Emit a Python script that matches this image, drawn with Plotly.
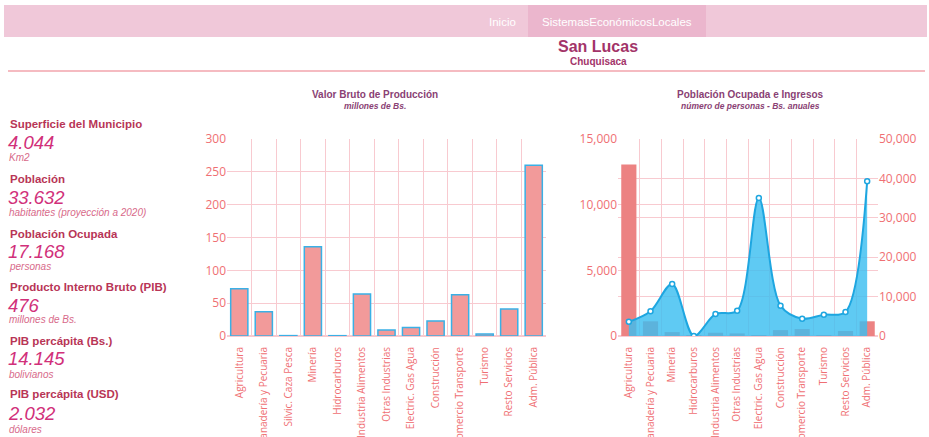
import plotly.graph_objects as go

W, H = 929, 437

# --- data -------------------------------------------------------------------
sectores_vbp = [
    "Agricultura", "Ganadería y Pecuaria", "Silvic. Caza Pesca", "Minería",
    "Hidrocarburos", "Industria Alimentos", "Otras Industrias",
    "Electric. Gas Agua", "Construcción", "Comercio Transporte", "Turismo",
    "Resto Servicios", "Adm. Pública",
]
vbp_millones = [72, 37, 0.6, 136, 0.5, 64, 9, 13, 23, 63, 3, 41, 260]

sectores_po = [
    "Agricultura", "Ganadería y Pecuaria", "Minería", "Hidrocarburos",
    "Industria Alimentos", "Otras Industrias", "Electric. Gas Agua",
    "Construcción", "Comercio Transporte", "Turismo", "Resto Servicios",
    "Adm. Pública",
]
poblacion_ocupada = [13050, 1120, 300, 20, 250, 200, 40, 450, 530, 70, 380, 1120]
ingresos_anuales = [3600, 6300, 13200, 0, 5600, 6400, 35000, 7700, 4400, 5400, 6100, 39300]

indicadores = [
    ("Superficie del Municipio", "4.044", "Km2"),
    ("Población", "33.632", "habitantes (proyección a 2020)"),
    ("Población Ocupada", "17.168", "personas"),
    ("Producto Interno Bruto (PIB)", "476", "millones de Bs."),
    ("PIB percápita (Bs.)", "14.145", "bolivianos"),
    ("PIB percápita (USD)", "2.032", "dólares"),
]

# --- colours ----------------------------------------------------------------
TICK = "#ef6f73"
GRID = "#f8cad0"
TITLE = "#8a3f74"
LABEL = "#b83556"
VALUE = "#d1307a"
UNIT = "#d86a8a"
BLUE = "#1ea6e0"


def py(px):
    """Pixel row -> paper y."""
    return 1 - px / H


def px_x(px):
    return px / W


fig = go.Figure()

fig.add_trace(go.Bar(
    x=sectores_vbp, y=vbp_millones, xaxis="x", yaxis="y",
    marker=dict(color="#f29a9a", line=dict(color="#3ab0e6", width=1.5)),
    showlegend=False,
))
fig.add_trace(go.Bar(
    x=sectores_po, y=poblacion_ocupada, xaxis="x2", yaxis="y2",
    marker=dict(color="#ec8282", line=dict(width=0)),
    showlegend=False,
))
fig.add_trace(go.Scatter(
    x=sectores_po, y=ingresos_anuales, xaxis="x2", yaxis="y3",
    mode="lines+markers", line=dict(color=BLUE, width=2, shape="spline", smoothing=0.9),
    fill="tozeroy", fillcolor="rgba(60,190,240,0.82)",
    marker=dict(size=5, color="white", line=dict(color=BLUE, width=1.5)),
    showlegend=False, cliponaxis=True,
))

y_dom = [py(336), py(139)]
axis_font = dict(family="Open Sans, sans-serif", size=10, color=TICK)
xcommon = dict(
    type="category", tickangle=-90, tickson="boundaries", showgrid=True,
    gridcolor=GRID, gridwidth=1, ticks="", tickfont=axis_font,
    ticklabelstandoff=6,
    showline=True, linecolor=GRID, mirror=False, fixedrange=True,
    automargin=False,
)
ycommon = dict(
    showgrid=True, gridcolor=GRID, gridwidth=1, zeroline=True,
    zerolinecolor=GRID, tickfont=dict(family="Open Sans, sans-serif", size=12, color=TICK),
    ticks="", fixedrange=True, automargin=False,
)

fig.update_layout(
    width=W, height=H,
    margin=dict(l=0, r=0, t=0, b=0, autoexpand=False),
    paper_bgcolor="white", plot_bgcolor="white",
    bargap=0.3,
    xaxis=dict(domain=[px_x(227), px_x(546)], anchor="y", **xcommon),
    yaxis=dict(domain=y_dom, anchor="x", range=[0, 300], dtick=50, **ycommon),
    xaxis2=dict(domain=[px_x(618), px_x(878)], anchor="y2", **xcommon),
    yaxis2=dict(domain=y_dom, anchor="x2", range=[0, 15000], dtick=5000,
                tickformat=",", **ycommon),
    yaxis3=dict(overlaying="y2", anchor="x2", side="right", range=[0, 50000],
                dtick=10000, tickformat=",", **ycommon),
)

# header bar
shapes = [
    dict(type="rect", xref="paper", yref="paper", x0=px_x(4), x1=px_x(927),
         y0=py(37), y1=py(5), fillcolor="#f0c8d9", line=dict(width=0), layer="below"),
    dict(type="rect", xref="paper", yref="paper", x0=px_x(528), x1=px_x(706),
         y0=py(37), y1=py(5), fillcolor="#ebb6cd", line=dict(width=0), layer="below"),
    dict(type="line", xref="paper", yref="paper", x0=px_x(8), x1=px_x(925),
         y0=py(71), y1=py(71), line=dict(color="#f2a5ad", width=1.5)),
]
fig.update_layout(shapes=shapes)

narrow = "Liberation Sans Narrow, Liberation Sans, sans-serif"
sans = "Liberation Sans, Arial, sans-serif"
nav_font = dict(family=narrow, size=11.5, color="white")
ann = [
    dict(x=px_x(502), y=py(22), text="Inicio", font=nav_font),
    dict(x=px_x(617), y=py(22), text="SistemasEconómicosLocales", font=nav_font),
    dict(x=px_x(598), y=py(46), text="<b>San Lucas</b>",
         font=dict(family=narrow, size=16, color="#a33469")),
    dict(x=px_x(598), y=py(61), text="<b>Chuquisaca</b>",
         font=dict(family=narrow, size=10, color="#a33469")),
    dict(x=px_x(375), y=py(95), text="<b>Valor Bruto de Producción</b>",
         font=dict(family=sans, size=10, color=TITLE)),
    dict(x=px_x(375), y=py(106), text="<b><i>millones de Bs.</i></b>",
         font=dict(family=sans, size=8.5, color=TITLE)),
    dict(x=px_x(750), y=py(95), text="<b>Población Ocupada e Ingresos</b>",
         font=dict(family=sans, size=10, color=TITLE)),
    dict(x=px_x(750), y=py(106), text="<b><i>número de personas - Bs. anuales</i></b>",
         font=dict(family=sans, size=8.5, color=TITLE)),
]

rows = [(124, 142, 158), (179, 197, 212), (234, 251, 266),
        (287, 305, 319), (341, 358, 374), (394, 413, 429)]
for (label, value, unit), (yl, yv, yu) in zip(indicadores, rows):
    ann.append(dict(x=px_x(8), y=py(yl), xanchor="left", text=f"<b>{label}</b>",
                    font=dict(family=sans, size=11.5, color=LABEL)))
    ann.append(dict(x=px_x(7), y=py(yv), xanchor="left", text=f"<i>{value}</i>",
                    font=dict(family=sans, size=18.5, color=VALUE), borderpad=0))
    ann.append(dict(x=px_x(8), y=py(yu), xanchor="left", text=f"<i>{unit}</i>",
                    font=dict(family=sans, size=10, color=UNIT), borderpad=0))

for a in ann:
    a.setdefault("xanchor", "center")
    a.update(xref="paper", yref="paper", yanchor="middle", showarrow=False)
fig.update_layout(annotations=ann)

fig.write_html(
    "out.html",
    config={"displayModeBar": False},
    post_script="document.body.style.margin='0';document.body.style.overflow='hidden';",
)
